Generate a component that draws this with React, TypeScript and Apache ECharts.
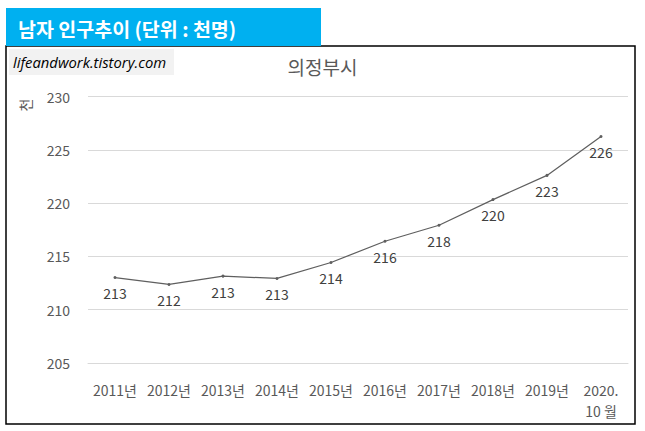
import React, { useEffect, useRef } from "react";
import * as echarts from "echarts";

const categories = ["2011년", "2012년", "2013년", "2014년", "2015년", "2016년", "2017년", "2018년", "2019년", "2020.\n10 월"];
const values = [213.02, 212.37, 213.15, 212.93, 214.43, 216.42, 217.92, 220.33, 222.6, 226.25];
const yMin = 205;
const yMax = 230;
const yStep = 5;
const bannerText = "남자 인구추이 (단위 : 천명)";
const chartTitle = "의정부시";
const unitLabel = "천";
const watermark = "lifeandwork.tistory.com";

const FONT = "'Noto Sans CJK KR', 'Noto Sans', sans-serif";

export default function App() {
  const ref = useRef<HTMLDivElement>(null);
  useEffect(() => {
    if (!ref.current) return;
    const chart = echarts.init(ref.current, undefined, { renderer: "svg" });
    chart.setOption({
      animation: false,
      backgroundColor: "#ffffff",
      textStyle: { fontFamily: FONT },
      title: {
        text: chartTitle,
        left: "center",
        top: 52,
        textStyle: { fontSize: 19, fontWeight: "normal", color: "#595959", fontFamily: FONT },
      },
      grid: { left: 88, right: 17, top: 96.5, bottom: 68, containLabel: false },
      xAxis: {
        type: "category",
        data: categories,
        boundaryGap: true,
        axisLine: { show: true, lineStyle: { color: "#D9D9D9", width: 1 } },
        axisTick: { show: false },
        axisLabel: {
          interval: 0,
          margin: 16,
          fontSize: 14,
          color: "#595959",
          fontFamily: FONT,
          lineHeight: 21,
        },
      },
      yAxis: {
        type: "value",
        min: yMin,
        max: yMax,
        interval: yStep,
        axisLine: { show: false },
        axisTick: { show: false },
        splitLine: { lineStyle: { color: "#D9D9D9", width: 1 } },
        axisLabel: { margin: 18, fontSize: 14, color: "#595959", fontFamily: FONT },
      },
      series: [
        {
          type: "line",
          data: values,
          symbol: "circle",
          symbolSize: 3,
          lineStyle: { color: "#5F5F5F", width: 1.25 },
          itemStyle: { color: "#5F5F5F" },
          label: {
            show: true,
            position: "bottom",
            distance: 7,
            fontSize: 14,
            color: "#404040",
            fontFamily: FONT,
            formatter: (p: any) => String(Math.round(p.value)),
          },
        },
      ],
      graphic: [
        {
          type: "rect",
          shape: { x: 6, y: 46, width: 629, height: 378 },
          style: { fill: "none", stroke: "#000000", lineWidth: 1.5 },
          z: 10,
        },
        {
          type: "rect",
          shape: { x: 6, y: 8, width: 315, height: 38 },
          style: { fill: "#00B0F0" },
          z: 11,
        },
        {
          type: "text",
          x: 18,
          y: 28,
          style: {
            text: bannerText,
            fill: "#ffffff",
            fontSize: 19.5,
            fontWeight: "bold",
            fontFamily: FONT,
            verticalAlign: "middle",
          },
          z: 12,
        },
        {
          type: "rect",
          shape: { x: 9, y: 49, width: 165, height: 26 },
          style: { fill: "#F2F2F2" },
          z: 11,
        },
        {
          type: "text",
          x: 13,
          y: 62,
          style: {
            text: watermark,
            fill: "#000000",
            fontSize: 14.8,
            fontStyle: "italic",
            fontFamily: "'Open Sans', 'Noto Sans', sans-serif",
            verticalAlign: "middle",
          },
          z: 12,
        },
        {
          type: "text",
          x: 25,
          y: 105,
          rotation: Math.PI / 2,
          style: {
            text: unitLabel,
            fill: "#595959",
            fontSize: 14,
            fontFamily: FONT,
            align: "center",
            verticalAlign: "middle",
          },
          z: 12,
        },
      ],
    });
    return () => chart.dispose();
  }, []);
  return (
    <div
      ref={ref}
      style={{ position: "fixed", left: 0, top: 0, width: 645, height: 431, background: "#fff" }}
    />
  );
}
